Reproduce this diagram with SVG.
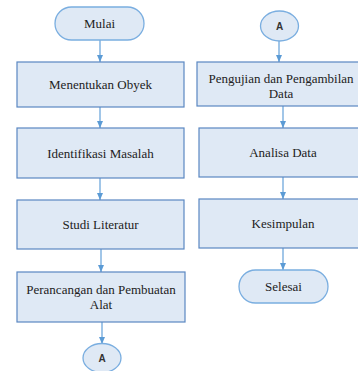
<svg xmlns="http://www.w3.org/2000/svg" width="358" height="371" viewBox="0 0 358 371">
<style>
.box{fill:#dfe9f5;stroke:#5a87c2;stroke-width:1.2}
.term{fill:#dfe9f5;stroke:#7aaee0;stroke-width:1.3}
.t{font-family:'Liberation Serif','Times New Roman','DejaVu Serif',serif;font-size:13px;fill:#222;text-anchor:middle}
.a{font-family:'Liberation Sans',Arial,sans-serif;font-size:10px;font-weight:bold;fill:#333;text-anchor:middle}
.c{stroke:#6fa8dc;stroke-width:1.3;fill:none}
</style>
<defs>
<marker id="ah" markerWidth="7" markerHeight="6" refX="7" refY="3" orient="auto" markerUnits="userSpaceOnUse">
<path d="M0,0 L7,3 L0,6 Z" fill="#5b9bd5"/>
</marker>
</defs>
<rect width="358" height="371" fill="#ffffff"/>
<g id="connectors">
<line class="c" x1="100" y1="40" x2="100" y2="62" marker-end="url(#ah)"/>
<line class="c" x1="100" y1="107" x2="100" y2="128" marker-end="url(#ah)"/>
<line class="c" x1="100" y1="178" x2="100" y2="200" marker-end="url(#ah)"/>
<line class="c" x1="101" y1="249" x2="101" y2="272" marker-end="url(#ah)"/>
<line class="c" x1="102" y1="322" x2="102" y2="344" marker-end="url(#ah)"/>
<line class="c" x1="279" y1="41" x2="279" y2="62" marker-end="url(#ah)"/>
<line class="c" x1="283" y1="106" x2="283" y2="128" marker-end="url(#ah)"/>
<line class="c" x1="283" y1="177" x2="283" y2="199" marker-end="url(#ah)"/>
<line class="c" x1="283" y1="248" x2="283" y2="270" marker-end="url(#ah)"/>
</g>
<g id="mulai">
<rect class="term" x="55" y="7" width="89" height="33" rx="16.5"/>
<text class="t" x="99.5" y="28">Mulai</text>
</g>
<g id="menentukan">
<rect class="box" x="17" y="62" width="167" height="45"/>
<text class="t" x="100.5" y="89">Menentukan Obyek</text>
</g>
<g id="identifikasi">
<rect class="box" x="17" y="128" width="167" height="50"/>
<text class="t" x="100.5" y="157.5">Identifikasi Masalah</text>
</g>
<g id="studi">
<rect class="box" x="17" y="200" width="167" height="49"/>
<text class="t" x="100.5" y="229">Studi Literatur</text>
</g>
<g id="perancangan">
<rect class="box" x="17" y="272" width="168" height="50"/>
<text class="t" x="101" y="294">Perancangan dan Pembuatan</text>
<text class="t" x="101" y="308.5">Alat</text>
</g>
<g id="a-left">
<ellipse class="term" cx="102" cy="358" rx="19" ry="14.5"/>
<text class="a" x="102" y="361.5">A</text>
</g>
<g id="a-right">
<ellipse class="term" cx="279.5" cy="26" rx="19" ry="15"/>
<text class="a" x="279.5" y="29.5">A</text>
</g>
<g id="pengujian">
<rect class="box" x="197" y="62" width="170" height="44"/>
<text class="t" x="281" y="83">Pengujian dan Pengambilan</text>
<text class="t" x="281" y="98">Data</text>
</g>
<g id="analisa">
<rect class="box" x="199" y="128" width="168" height="49"/>
<text class="t" x="283" y="157">Analisa Data</text>
</g>
<g id="kesimpulan">
<rect class="box" x="199" y="199" width="168" height="49"/>
<text class="t" x="283" y="228">Kesimpulan</text>
</g>
<g id="selesai">
<rect class="term" x="239" y="270" width="89" height="33" rx="16.5"/>
<text class="t" x="283.5" y="291">Selesai</text>
</g>
</svg>
